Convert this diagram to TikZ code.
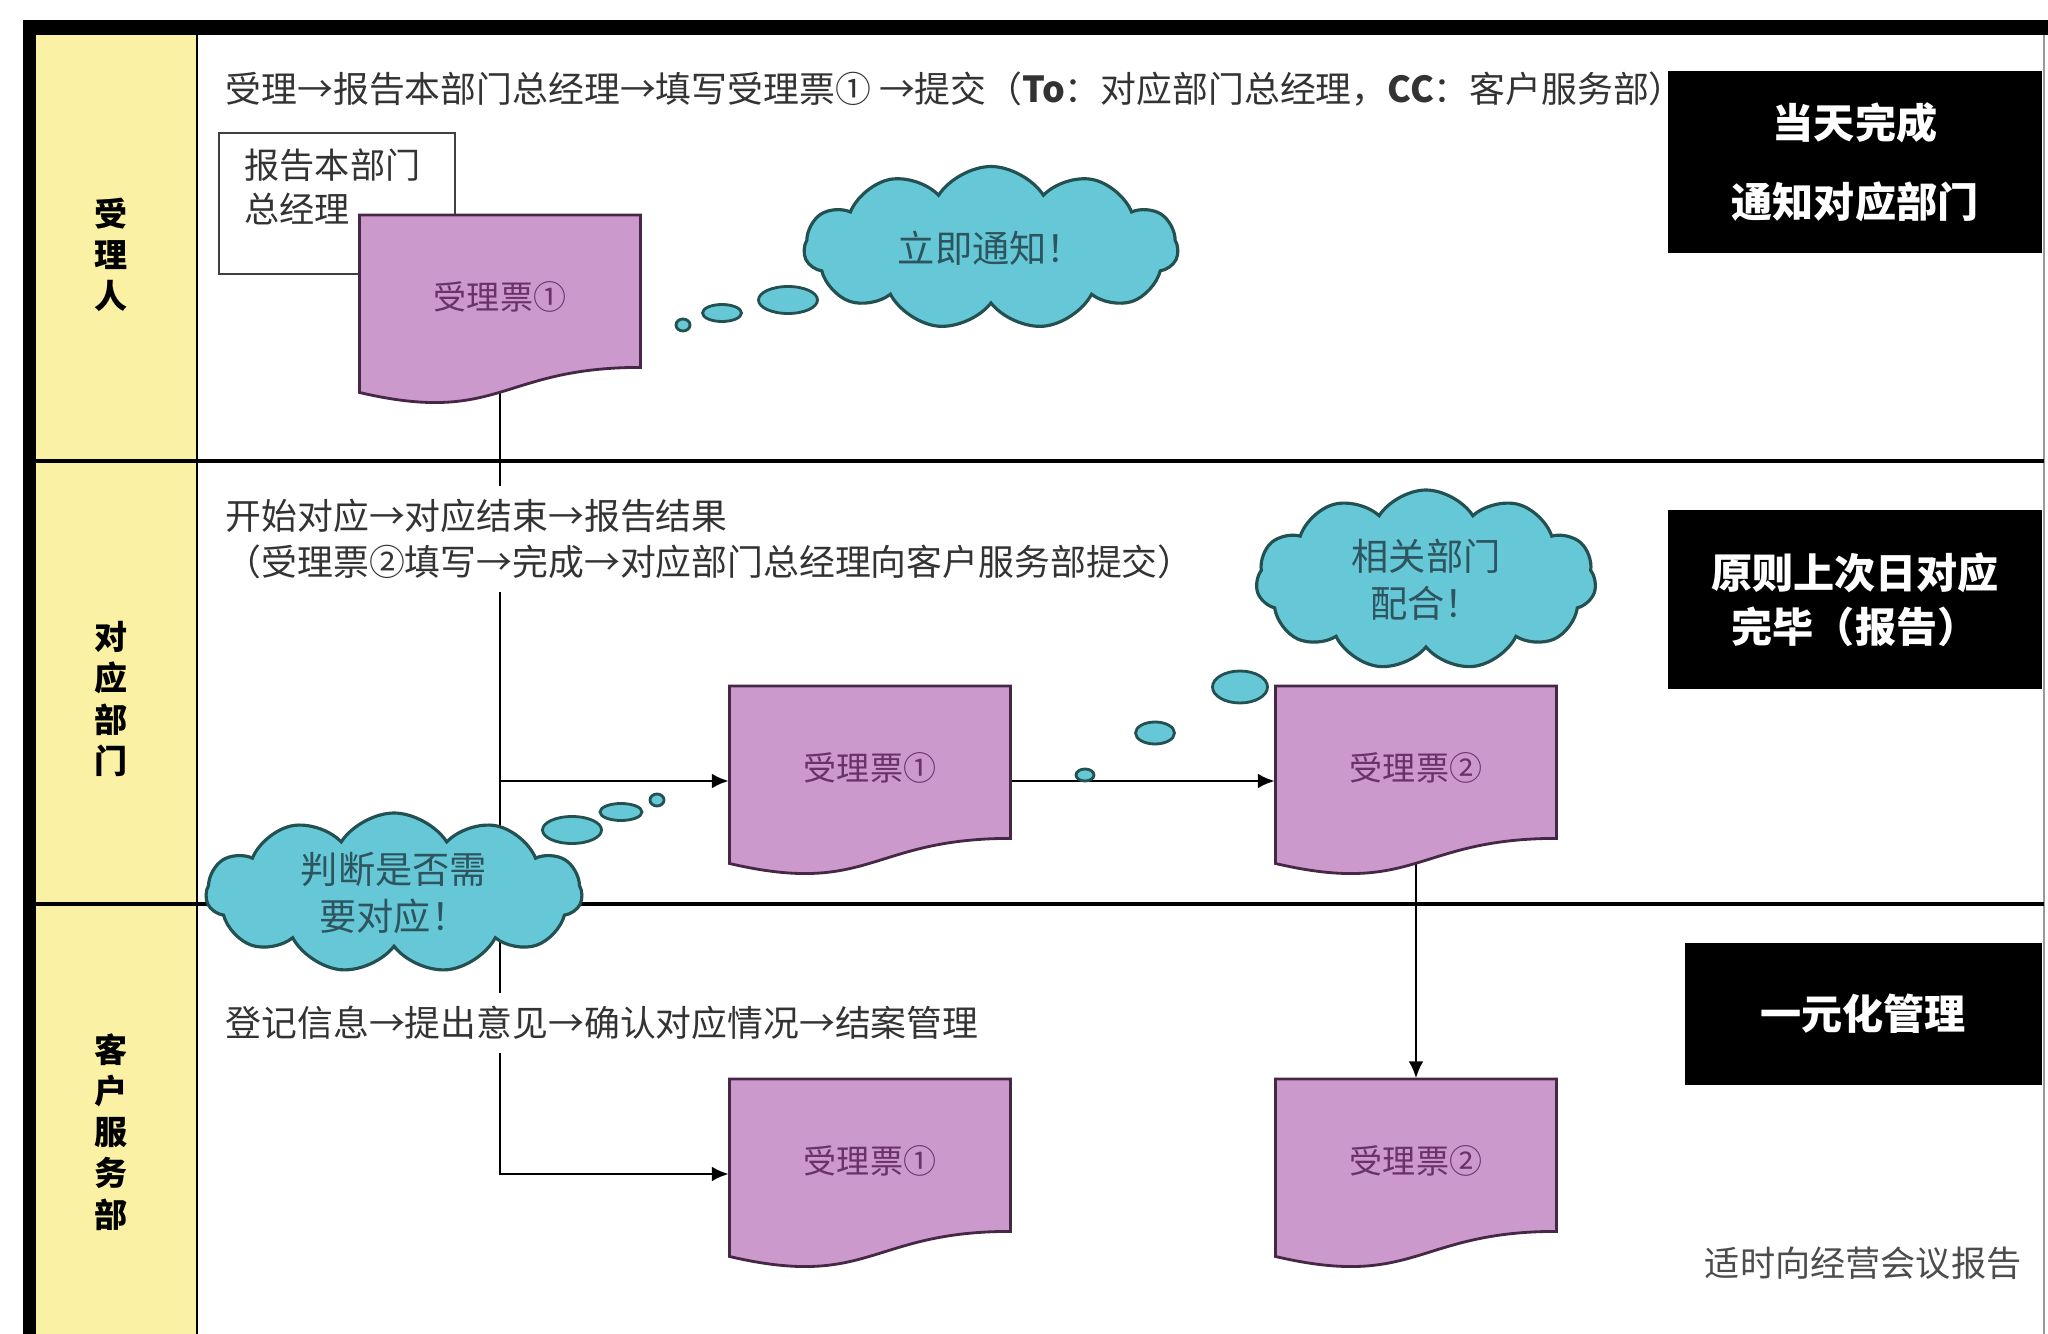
\documentclass[tikz,border=0pt]{standalone}
\usepackage{fontspec}
\setmainfont{Noto Sans CJK SC}
\usepackage{xcolor}
\usepackage{tikz}
\usetikzlibrary{arrows.meta,shapes.geometric,shapes.symbols,calc}

\definecolor{laneyellow}{RGB}{250,241,165}
\definecolor{ticketpink}{RGB}{204,153,204}
\definecolor{ticketedge}{RGB}{70,40,70}
\definecolor{tickettxt}{RGB}{105,50,105}
\definecolor{cloudblue}{RGB}{102,199,214}
\definecolor{cloudedge}{RGB}{35,80,80}
\definecolor{cloudtxt}{RGB}{45,85,95}

% document shape drawn round an (invisible) ticket node
\newcommand{\ticket}[2]{%
  \filldraw[ticketline] ($(#1.center)+(-1.405,0.95)$) -- ($(#1.center)+(1.405,0.95)$)
    -- ($(#1.center)+(1.405,-0.574)$)
    .. controls ($(#1.center)+(0,-0.574)$) and ($(#1.center)+(0,-1.153)$) .. ($(#1.center)+(-1.405,-0.825)$)
    -- cycle;
  \node[tickettext] (#1-t) at ($(#1.center)+(0,0.13)$) {#2};
}

\begin{document}
\begin{tikzpicture}[
        >={Latex[length=1.7mm,width=1.5mm]},
        lanename/.style={font=\fontsize{9.4pt}{11.7pt}\selectfont\bfseries, align=center, inner sep=0pt},
        steptext/.style={font=\fontsize{10.2pt}{13.1pt}\selectfont, text=black!80, fill=white, anchor=west, align=left, inner sep=1.3mm},
        memo/.style={draw=black!75, line width=0.8pt, fill=white, minimum width=2.36cm, minimum height=1.41cm, inner sep=0pt},
        ticketbox/.style={rectangle, minimum width=2.81cm, minimum height=1.9cm, inner sep=0pt},
        ticketline/.style={draw=ticketedge, line width=0.8pt, fill=ticketpink},
        tickettext/.style={font=\fontsize{9.4pt}{12pt}\selectfont, text=tickettxt, inner sep=0pt},
        thought/.style={cloud, cloud puffs=11, cloud puff arc=115, cloud ignores aspect, draw=cloudedge, line width=0.9pt, fill=cloudblue, text=cloudtxt, font=\fontsize{10.6pt}{13.5pt}\selectfont, align=center, inner sep=0pt},
        bubble/.style={ellipse, draw=cloudedge, line width=0.8pt, fill=cloudblue, inner sep=0pt},
        rulebox/.style={fill=black, text=white, font=\fontsize{11.7pt}{15.4pt}\selectfont\bfseries, align=center, inner sep=0pt},
        flow/.style={draw=black, line width=0.8pt},
        divider/.style={draw=black, line width=1.1pt},
        every edge/.style={flow}
    ]
    \useasboundingbox (0,0) rectangle (20.48,-13.34);
    \fill[white] (0,0) rectangle (20.48,-13.34);

    % frame and swim lanes
    \fill[laneyellow] (0.36,-0.35) rectangle (1.96,-13.34);
    \fill[black] (0.23,-0.20) rectangle (20.48,-0.35);
    \fill[black] (0.23,-0.20) rectangle (0.36,-13.34);
    \draw[black, line width=0.85pt] (1.97,-0.35) -- (1.97,-13.34);
    \draw[black!40, line width=0.5pt] (20.44,-0.35) -- (20.44,-13.34);
    \draw[divider] (0.36,-4.61) -- (20.44,-4.61);
    \draw[divider] (0.36,-9.04) -- (20.44,-9.04);

    \node[lanename] (lane1) at (1.11,-2.55) {受\\理\\人};
    \node[lanename] (lane2) at (1.11,-6.99) {对\\应\\部\\门};
    \node[lanename] (lane3) at (1.11,-11.32) {客\\户\\服\\务\\部};

    % tickets
    \node[ticketbox] (doc1) at (5.00,-3.10) {};
    \node[ticketbox] (doc2) at (8.70,-7.81) {};
    \node[ticketbox] (doc3) at (14.16,-7.81) {};
    \node[ticketbox] (doc4) at (8.70,-11.74) {};
    \node[ticketbox] (doc5) at (14.16,-11.74) {};

    \draw[flow,->] (doc1.center) |- (doc4.west);
    \path [->] (doc1.center |- doc2.west) edge (doc2.west);
    \path [->] (doc2.east) edge (doc3.west);
    \path [->] (doc3.center) edge (doc5.north);

    \node[steptext] (step1) at (2.12,-0.89) {受理→报告本部门总经理→填写受理票① →提交（\textbf{To}：对应部门总经理，\textbf{CC}：客户服务部）};
    \node[steptext] (step2) at (2.12,-5.39) {开始对应→对应结束→报告结果\\（受理票②填写→完成→对应部门总经理向客户服务部提交）};
    \node[steptext] (step3) at (2.12,-10.23) {登记信息→提出意见→确认对应情况→结案管理};

    \node[memo] (memo) at (3.37,-2.035) {};
    \node[anchor=west, align=left, inner sep=0pt, font=\fontsize{10pt}{12.5pt}\selectfont, text=black!80] (memo-t) at (2.44,-1.87) {报告本部门\\总经理};

    \ticket{doc1}{受理票①}
    \ticket{doc2}{受理票①}
    \ticket{doc3}{受理票②}
    \ticket{doc4}{受理票①}
    \ticket{doc5}{受理票②}

    % thought clouds
    \node[thought, minimum width=3.74cm, minimum height=1.63cm] (notify) at (9.91,-2.48) {立即通知！};
    \node[bubble, minimum width=0.59cm, minimum height=0.27cm] (notify-b1) at (7.88,-3.00) {};
    \node[bubble, minimum width=0.39cm, minimum height=0.17cm] (notify-b2) at (7.22,-3.13) {};
    \node[bubble, minimum width=0.14cm, minimum height=0.12cm] (notify-b3) at (6.83,-3.25) {};

    \node[thought, minimum width=3.40cm, minimum height=1.80cm] (assist) at (14.26,-5.80) {相关部门\\配合！};
    \node[bubble, minimum width=0.55cm, minimum height=0.32cm] (assist-b1) at (12.40,-6.87) {};
    \node[bubble, minimum width=0.39cm, minimum height=0.22cm] (assist-b2) at (11.55,-7.33) {};
    \node[bubble, minimum width=0.18cm, minimum height=0.12cm] (assist-b3) at (10.85,-7.75) {};

    \node[thought, minimum width=3.76cm, minimum height=1.60cm] (judge) at (3.94,-8.93) {判断是否需\\要对应！};
    \node[bubble, minimum width=0.59cm, minimum height=0.27cm] (judge-b1) at (5.72,-8.30) {};
    \node[bubble, minimum width=0.42cm, minimum height=0.17cm] (judge-b2) at (6.21,-8.12) {};
    \node[bubble, minimum width=0.14cm, minimum height=0.12cm] (judge-b3) at (6.57,-8.00) {};

    % rules on the right
    \node[rulebox, minimum width=3.74cm, minimum height=1.82cm] (rule1) at (18.55,-1.62) {当天完成\\[7pt]通知对应部门};
    \node[rulebox, minimum width=3.74cm, minimum height=1.79cm] (rule2) at (18.55,-6.00) {原则上次日对应\\完毕（报告）};
    \node[rulebox, minimum width=3.57cm, minimum height=1.42cm] (rule3) at (18.63,-10.14) {一元化管理};

    \node[anchor=east, inner sep=0pt, font=\fontsize{10pt}{12pt}\selectfont, text=black!70] (note) at (20.22,-12.63) {适时向经营会议报告};
\end{tikzpicture}
\end{document}
